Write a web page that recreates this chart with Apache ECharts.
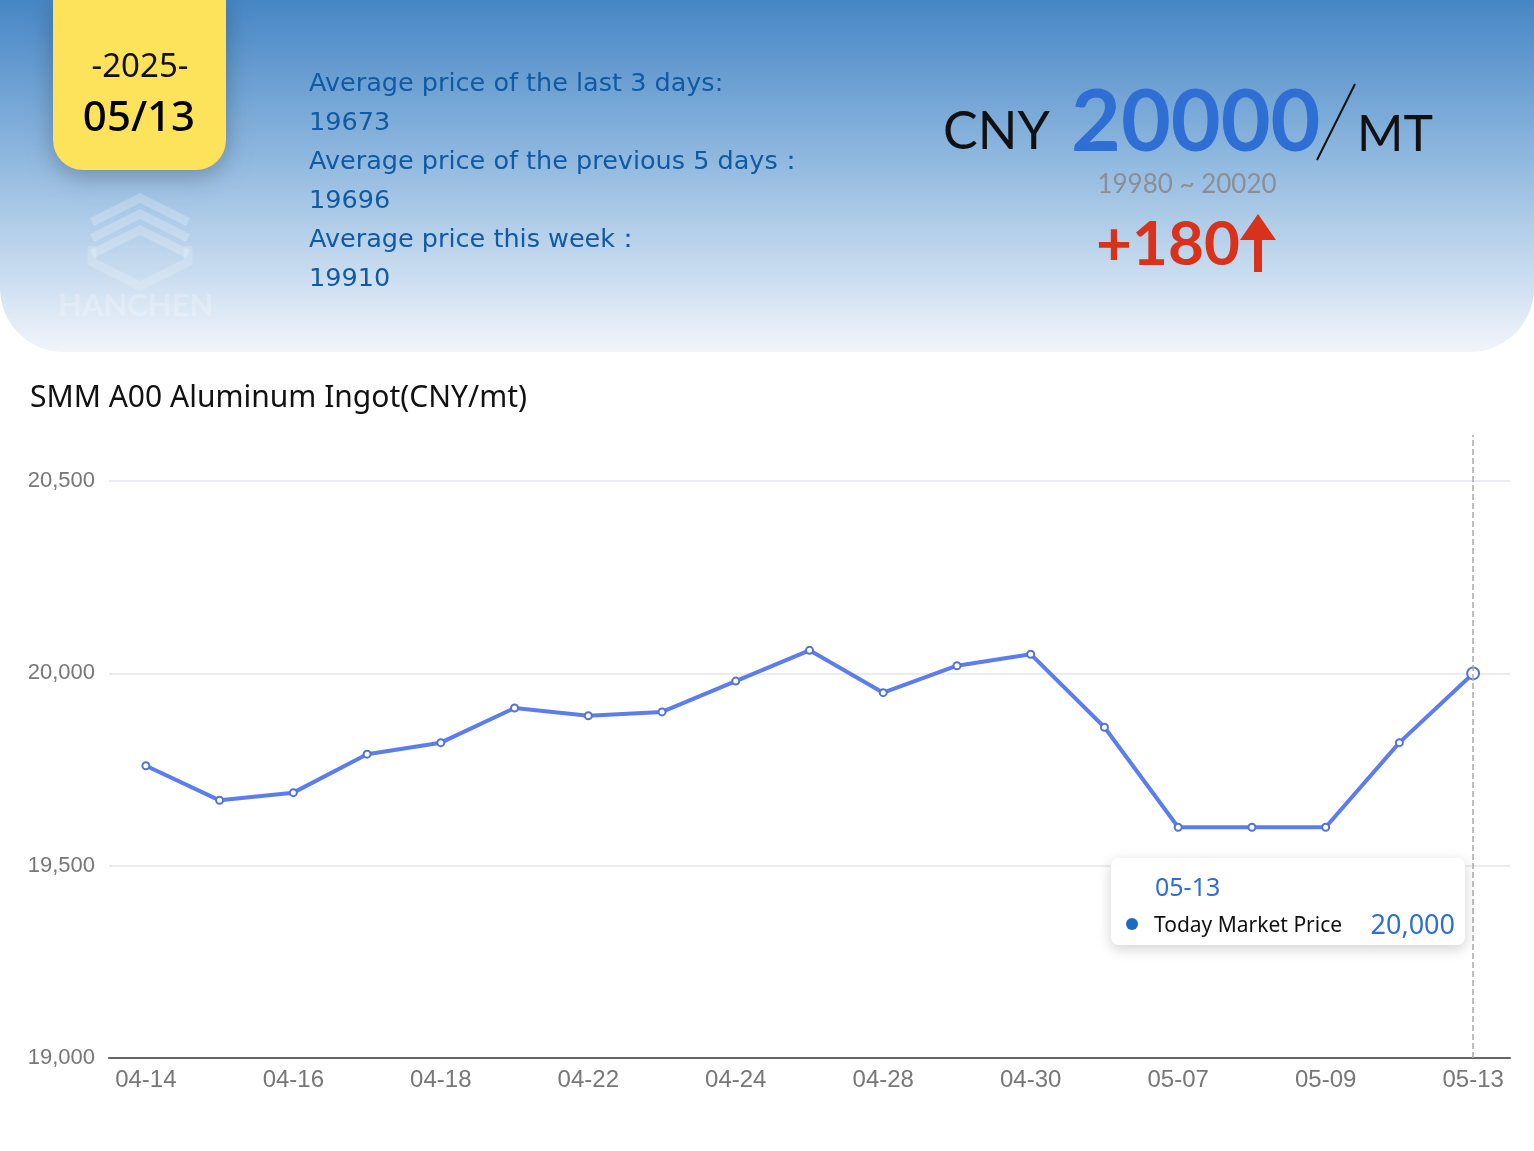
<!DOCTYPE html>
<html>
<head>
<meta charset="utf-8">
<title>SMM A00 Aluminum Ingot</title>
<script src="https://cdn.jsdelivr.net/npm/echarts@6/dist/echarts.min.js"></script>
<style>
  html, body { margin: 0; padding: 0; background: #fff; }
  #main { width: 1534px; height: 1151px; }
</style>
</head>
<body>
<div id="main"></div>
<script>
// data
const dates = ['04-14', '04-15', '04-16', '04-17', '04-18', '04-21', '04-22', '04-23', '04-24', '04-25',
  '04-28', '04-29', '04-30', '05-06', '05-07', '05-08', '05-09', '05-12', '05-13'];
const prices = [19760, 19670, 19690, 19790, 19820, 19910, 19890, 19900, 19980, 20060,
  19950, 20020, 20050, 19860, 19600, 19600, 19600, 19820, 20000];
const yTicks = [19000, 19500, 20000, 20500];
const seriesName = 'Today Market Price';

const headerDate = ['-2025-', '05/13'];
const avgLines = ['Average price of the last 3 days:', '19673',
  'Average price of the previous 5 days：', '19696',
  'Average price this week：', '19910'];
const todayPrice = '20000';
const priceRange = '19980 ~ 20020';
const change = '+180';

const FONT = '"Noto Sans", Lato, sans-serif';
const LATO = 'Lato, "Noto Sans", sans-serif';
const DEJAVU = '"DejaVu Sans", "Noto Sans", sans-serif';

document.addEventListener('DOMContentLoaded', function() {
  const chart = echarts.init(document.getElementById('main'));

  // header texts
  const avgTexts = avgLines.map((t, i) => ({
    type: 'text', left: 309, top: 71 + i * 39,
    style: { text: t, fill: '#0f5aa3', font: '25.5px ' + DEJAVU }
  }));

  // logo stripes
  const logoStripes = [0, 1, 2].map(i => ({
    type: 'polyline', z: -5,
    shape: { points: [[92, 222 + i * 16], [140, 198 + i * 16], [188, 222 + i * 16]] },
    style: { stroke: 'rgba(255,255,255,0.22)', lineWidth: 9, fill: null }
  }));

  const option = {
    backgroundColor: '#fff',
    animation: false,
    title: {
      text: 'SMM A00 Aluminum Ingot(CNY/mt)',
      left: 25, top: 378,
      textStyle: { fontFamily: FONT, fontSize: 30, fontWeight: 'normal', color: '#111' }
    },
    graphic: [
      // header background
      {
        type: 'rect', left: 0, top: 0, z: -10,
        shape: { width: 1534, height: 352, r: [0, 0, 64, 64] },
        style: {
          fill: new echarts.graphic.LinearGradient(0, 0, 0, 1, [
            { offset: 0, color: '#4686c5' },
            { offset: 0.45, color: '#8fb8df' },
            { offset: 1, color: '#f1f5fb' }
          ])
        }
      },
      // watermark
      ...logoStripes,
      {
        type: 'polyline', z: -5,
        shape: { points: [[92, 246], [92, 262], [140, 286], [188, 262], [188, 246]] },
        style: { stroke: 'rgba(255,255,255,0.18)', lineWidth: 9, fill: null }
      },
      {
        type: 'text', left: 58, top: 290, z: -5,
        style: { text: 'HANCHEN', fill: 'rgba(255,255,255,0.22)', font: 'bold 31px ' + LATO }
      },
      // yellow date box
      {
        type: 'rect', left: 53, top: 0,
        shape: { width: 173, height: 170, r: [0, 0, 30, 30] },
        style: { fill: '#fde25b', shadowBlur: 24, shadowColor: 'rgba(0,0,0,0.25)', shadowOffsetY: 6 }
      },
      {
        type: 'text', x: 140, y: 68,
        style: { text: headerDate[0], fill: '#111', font: '33px ' + FONT, align: 'center', verticalAlign: 'middle' }
      },
      {
        type: 'text', x: 139, y: 119,
        style: { text: headerDate[1], fill: '#000', font: '500 42px ' + FONT, align: 'center', verticalAlign: 'middle' }
      },
      ...avgTexts,
      // price block
      {
        type: 'text', left: 943, top: 106,
        style: { text: 'CNY', fill: '#111', font: '52px ' + LATO }
      },
      {
        type: 'text', left: 1071, top: 80,
        style: { text: todayPrice, fill: '#2f6fd3', font: 'bold 86px ' + LATO }
      },
      {
        type: 'line',
        shape: { x1: 1355, y1: 84, x2: 1317, y2: 160 },
        style: { stroke: '#111', lineWidth: 2 }
      },
      {
        type: 'text', left: 1357, top: 110,
        style: { text: 'MT', fill: '#111', font: '50px ' + LATO }
      },
      {
        type: 'text', x: 1187, y: 185,
        style: { text: priceRange, fill: '#8a8f96', font: '26px ' + LATO, align: 'center', verticalAlign: 'middle' }
      },
      {
        type: 'text', left: 1096, top: 214,
        style: { text: change, fill: '#d8321c', font: 'bold 62px ' + LATO }
      },
      {
        type: 'polygon',
        shape: { points: [[1258, 214], [1276, 240], [1262, 240], [1262, 272], [1254, 272], [1254, 240], [1240, 240]] },
        style: { fill: '#d8321c' }
      }
    ],
    tooltip: {
      trigger: 'axis',
      alwaysShowContent: true,
      triggerOn: 'none',
      backgroundColor: '#fff',
      borderWidth: 0,
      padding: 0,
      extraCssText: 'border-radius:8px;box-shadow:0 4px 14px rgba(0,0,0,0.18);',
      position: function() { return [1111, 858]; },
      axisPointer: {
        type: 'line',
        lineStyle: { color: '#aaa', type: 'dashed', width: 1.5 }
      },
      formatter: function(params) {
        const p = params[0];
        return '<div style="width:354px;height:87px;box-sizing:border-box;padding:11px 10px 0 15px;font-family:\'Noto Sans\',Lato,sans-serif;">' +
          '<div style="font-size:25px;color:#2f6fd3;padding-left:29px;line-height:34px;">' + p.name + '</div>' +
          '<div style="display:flex;align-items:center;margin-top:4px;line-height:34px;">' +
          '<span style="display:inline-block;width:12px;height:12px;border-radius:6px;background:#1a6cc0;margin-right:16px;"></span>' +
          '<span style="font-size:21px;color:#111;flex:1;">' + p.seriesName + '</span>' +
          '<span style="font-size:27px;color:#2f6fd3;">' + p.value.toLocaleString('en-US') + '</span>' +
          '</div></div>';
      }
    },
    grid: { left: 109, right: 24, top: 435, bottom: 93 },
    xAxis: {
      type: 'category',
      data: dates,
      boundaryGap: true,
      axisLine: { lineStyle: { color: '#666', width: 2 } },
      axisTick: { interval: 1, length: 7, lineStyle: { color: '#666' } },
      axisLabel: {
        interval: 1, color: '#777', fontSize: 24, margin: 10,
        fontFamily: '"Liberation Sans Narrow", "Liberation Sans", sans-serif'
      }
    },
    yAxis: {
      type: 'value',
      min: yTicks[0],
      max: 20620,
      interval: yTicks[1] - yTicks[0],
      axisLine: { show: false },
      axisTick: { show: false },
      axisLabel: {
        showMaxLabel: false,
        color: '#777', fontSize: 22, margin: 14,
        fontFamily: '"Liberation Sans Narrow", "Liberation Sans", sans-serif',
        formatter: v => v.toLocaleString('en-US')
      },
      splitLine: {
        showMaxLine: false,
        lineStyle: { color: '#e3e6ee', width: 1.5 }
      }
    },
    series: [{
      name: seriesName,
      type: 'line',
      data: prices,
      symbol: 'emptyCircle',
      symbolSize: 7,
      color: '#5572d8',
      lineStyle: { width: 4, color: '#5572d8' },
      itemStyle: { color: '#5572d8', borderWidth: 2 },
      emphasis: { scale: 1.7 }
    }]
  };

  chart.setOption(option);
  chart.dispatchAction({ type: 'showTip', seriesIndex: 0, dataIndex: prices.length - 1 });
});
</script>
</body>
</html>
